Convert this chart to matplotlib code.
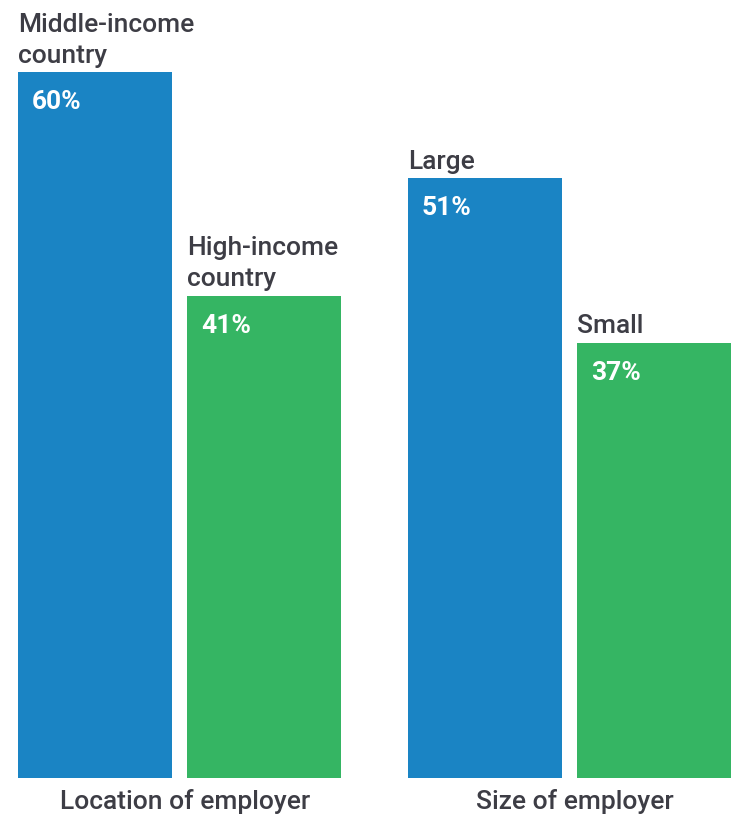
import matplotlib.pyplot as plt

plt.rcParams['font.family'] = ['Roboto', 'DejaVu Sans']

groups = ["Location of employer", "Size of employer"]
categories = [["Middle-income\ncountry", "High-income\ncountry"], ["Large", "Small"]]
values = [[60, 41], [51, 37]]
colors = ["#1a84c4", "#35b563"]
text_color = "#3d3d45"

W, H = 734, 814
fig = plt.figure(figsize=(W / 100, H / 100), dpi=100)
# axes area in pixels: x 18..731, y 72..778
ax = fig.add_axes([18 / W, (H - 778) / H, 713 / W, 706 / H])

bar_w, gap, group_gap = 154, 15, 67
group_span = 2 * bar_w + gap + group_gap

for g, grp in enumerate(groups):
    x0 = g * group_span
    for i, (cat, val) in enumerate(zip(categories[g], values[g])):
        left = x0 + i * (bar_w + gap)
        ax.bar(left, val, width=bar_w, align='edge', color=colors[i], linewidth=0)
        ax.annotate(cat, (left, val), xytext=(0, 3), textcoords='offset points',
                    ha='left', va='bottom', fontsize=19, fontweight='medium',
                    color=text_color, linespacing=1.38, annotation_clip=False)
        ax.annotate(f"{val}%", (left, val), xytext=(10, -13), textcoords='offset points',
                    ha='left', va='top', fontsize=19, fontweight='bold',
                    color='white')
    center = x0 + bar_w + gap / 2
    ax.annotate(grp, (center, 0), xytext=(4, -8), textcoords='offset points',
                ha='center', va='top', fontsize=19, fontweight='medium',
                color=text_color, annotation_clip=False)

ax.set_xlim(0, 713)
ax.set_ylim(0, 60)
ax.axis('off')

fig.savefig("out.png", dpi=100)
